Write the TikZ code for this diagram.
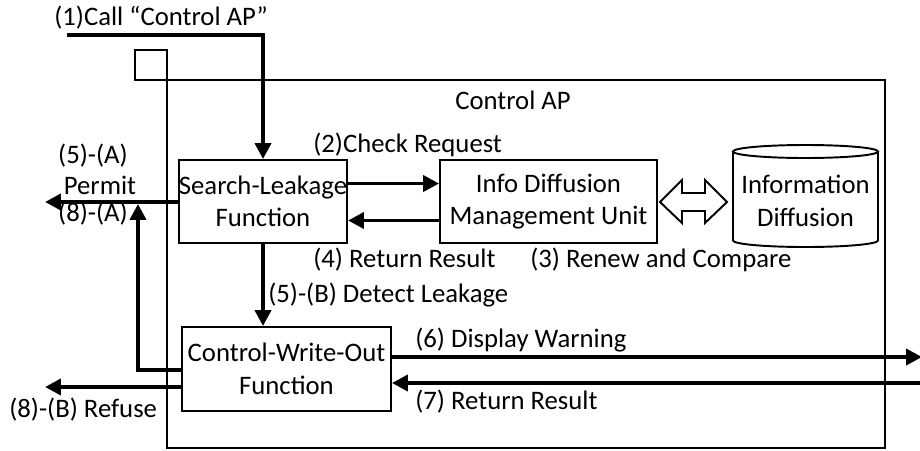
\documentclass[tikz,border=0pt]{standalone}
\usepackage{fontspec}
\setmainfont{Carlito}
\usetikzlibrary{arrows.meta}
\tikzset{
  box/.style={draw, line width=1.1pt, rectangle, align=center, inner sep=0pt},
  flow/.style={line width=2.2pt, -{Triangle[length=9pt,width=9pt]}},
  lbl/.style={inner sep=0pt, anchor=west},
  thin/.style={line width=1.1pt}
}
\begin{document}
\begin{tikzpicture}[x=0.02cm, y=-0.02cm, font=\fontsize{15.2}{18.5}\selectfont]
\useasboundingbox (0,0) rectangle (920,450);
% outer box and small square
\draw[thin] (167,80) rectangle (885,448);
\draw[thin] (135,50) rectangle (167,80);
\node (title) at (513,100) {Control AP};
% boxes
\node[box, minimum width=3.36cm, minimum height=1.66cm] (search) at (263,201.5) {Search-Leakage\\Function};
\node[box, minimum width=4.34cm, minimum height=1.66cm] (info) at (548.5,201.5) {Info Diffusion\\Management Unit};
\node[box, minimum width=4.18cm, minimum height=1.68cm] (cwo) at (286.5,369) {Control-Write-Out\\Function};
% cylinder
\draw[thin, fill=white] (733,151.5) -- (733,240.5) arc[start angle=180, end angle=360, x radius=72.5, y radius=-6.5] -- (878,151.5);
\draw[thin] (805.5,151.5) ellipse[x radius=72.5, y radius=6.5];
\node[align=center] (db) at (805.5,201) {Information\\Diffusion};
% hollow double arrow
\draw[thin, fill=white] (660,202) -- (682,180) -- (682,193) -- (705,193) -- (705,180) -- (727,202) -- (705,223) -- (705,211) -- (682,211) -- (682,223) -- cycle;
% (1) call
\coordinate (c1) at (67,35);
\node[lbl] (l1) at (54,18) {(1)Call “Control AP”};
\draw[flow] (c1) -| (search.north);
% (2), (4)
\draw[flow] ([yshift=0.36cm]search.east) -- ([yshift=0.36cm]info.west);
\draw[flow] ([yshift=-0.38cm]info.west) -- ([yshift=-0.38cm]search.east);
\node[lbl] (l2) at (313,145) {(2)Check Request};
\node[lbl] (l4) at (313,260) {(4) Return Result};
\node[lbl] (l3) at (530,260) {(3) Renew and Compare};
% (5)-(B)
\draw[flow] (search.south) -- (search.south |- cwo.north);
\node[lbl] (l5b) at (268,295) {(5)-(B) Detect Leakage};
% (6), (7)
\coordinate (r6) at (922,357);
\coordinate (r7) at (920,383);
\draw[flow] (cwo.east |- r6) -- (r6);
\draw[flow] (r7) -- (cwo.east |- r7);
\node[lbl] (l6) at (415,340) {(6) Display Warning};
\node[lbl] (l7) at (415,402) {(7) Return Result};
% (5)-(A) permit
\coordinate (pA) at (45,202);
\draw[flow] (search.west |- pA) -- (pA);
\node (l5a) at (93,156) {(5)-(A)};
\node (lp) at (100,185) {Permit};
\node (l8a) at (93,214) {(8)-(A)};
% (8)-(A)
\coordinate (k8) at (138,370);
\coordinate (t8) at (138,204);
\draw[flow] (cwo.west |- k8) -- (k8) -- (t8);
% (8)-(B)
\coordinate (pB) at (45,387);
\draw[flow] (cwo.west |- pB) -- (pB);
\node[lbl] (l8b) at (9,410) {(8)-(B) Refuse};
\end{tikzpicture}
\end{document}
